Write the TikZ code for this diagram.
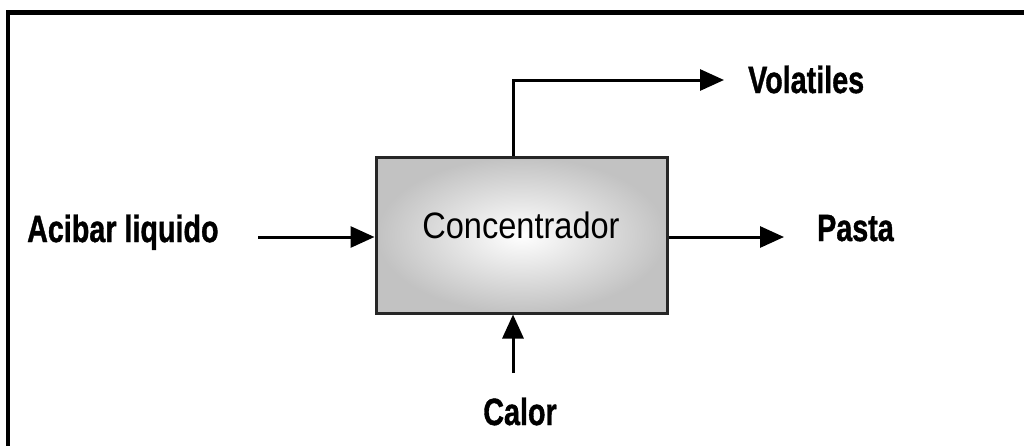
\documentclass[tikz,border=0pt]{standalone}
\usepackage{fontspec}
\setmainfont{Liberation Sans}[BoldFeatures={FakeBold=1.2}]
\usetikzlibrary{arrows.meta}
\tikzset{
  flow/.style={line width=3pt, -{Triangle[length=24pt,width=21pt]}},
  lbl/.style={inner sep=0pt, font=\fontsize{33}{33}\selectfont\bfseries, xscale=0.87, yscale=1.15},
  procbox/.style={draw=black!85, line width=3pt, minimum width=291pt, minimum height=156pt,
    inner sep=0pt, inner color=white, outer color=black!24},
}
\begin{document}
\begin{tikzpicture}[x=1pt,y=-1pt]
\useasboundingbox (0,0) rectangle (1024,445);
% frame
\draw[line width=4.5pt, line join=miter] (8,450) -- (8,12.5) -- (1030,12.5);
% process box
\node[procbox] (box) at (521.5,235) {};
\node[inner sep=0pt, font=\fontsize{35}{35}\selectfont, xscale=0.93, yscale=1.05, anchor=base] (conc) at (521,238) {Concentrador};
% labels
\node[lbl, anchor=base west] (acibar) at (27,242) {Acibar liquido};
\node[lbl, anchor=base west] (pasta) at (817,241) {Pasta};
\node[lbl, anchor=base west] (volat) at (748,93) {Volatiles};
\node[lbl, anchor=base] (calor) at (520,425) {Calor};
% connector points
\coordinate (ain) at (258,237);
\coordinate (pout) at (784,237);
\coordinate (vcorner) at (513,80);
\coordinate (vtip) at (724,80);
\coordinate (cin) at (513,373);
% connectors
\draw[flow] (ain) -- (ain -| box.west);
\draw[flow] (pout -| box.east) -- (pout);
\draw[flow] (vcorner |- box.north) -- (vcorner) -- (vtip);
\draw[flow] (cin) -- (cin |- box.south);
\end{tikzpicture}
\end{document}
